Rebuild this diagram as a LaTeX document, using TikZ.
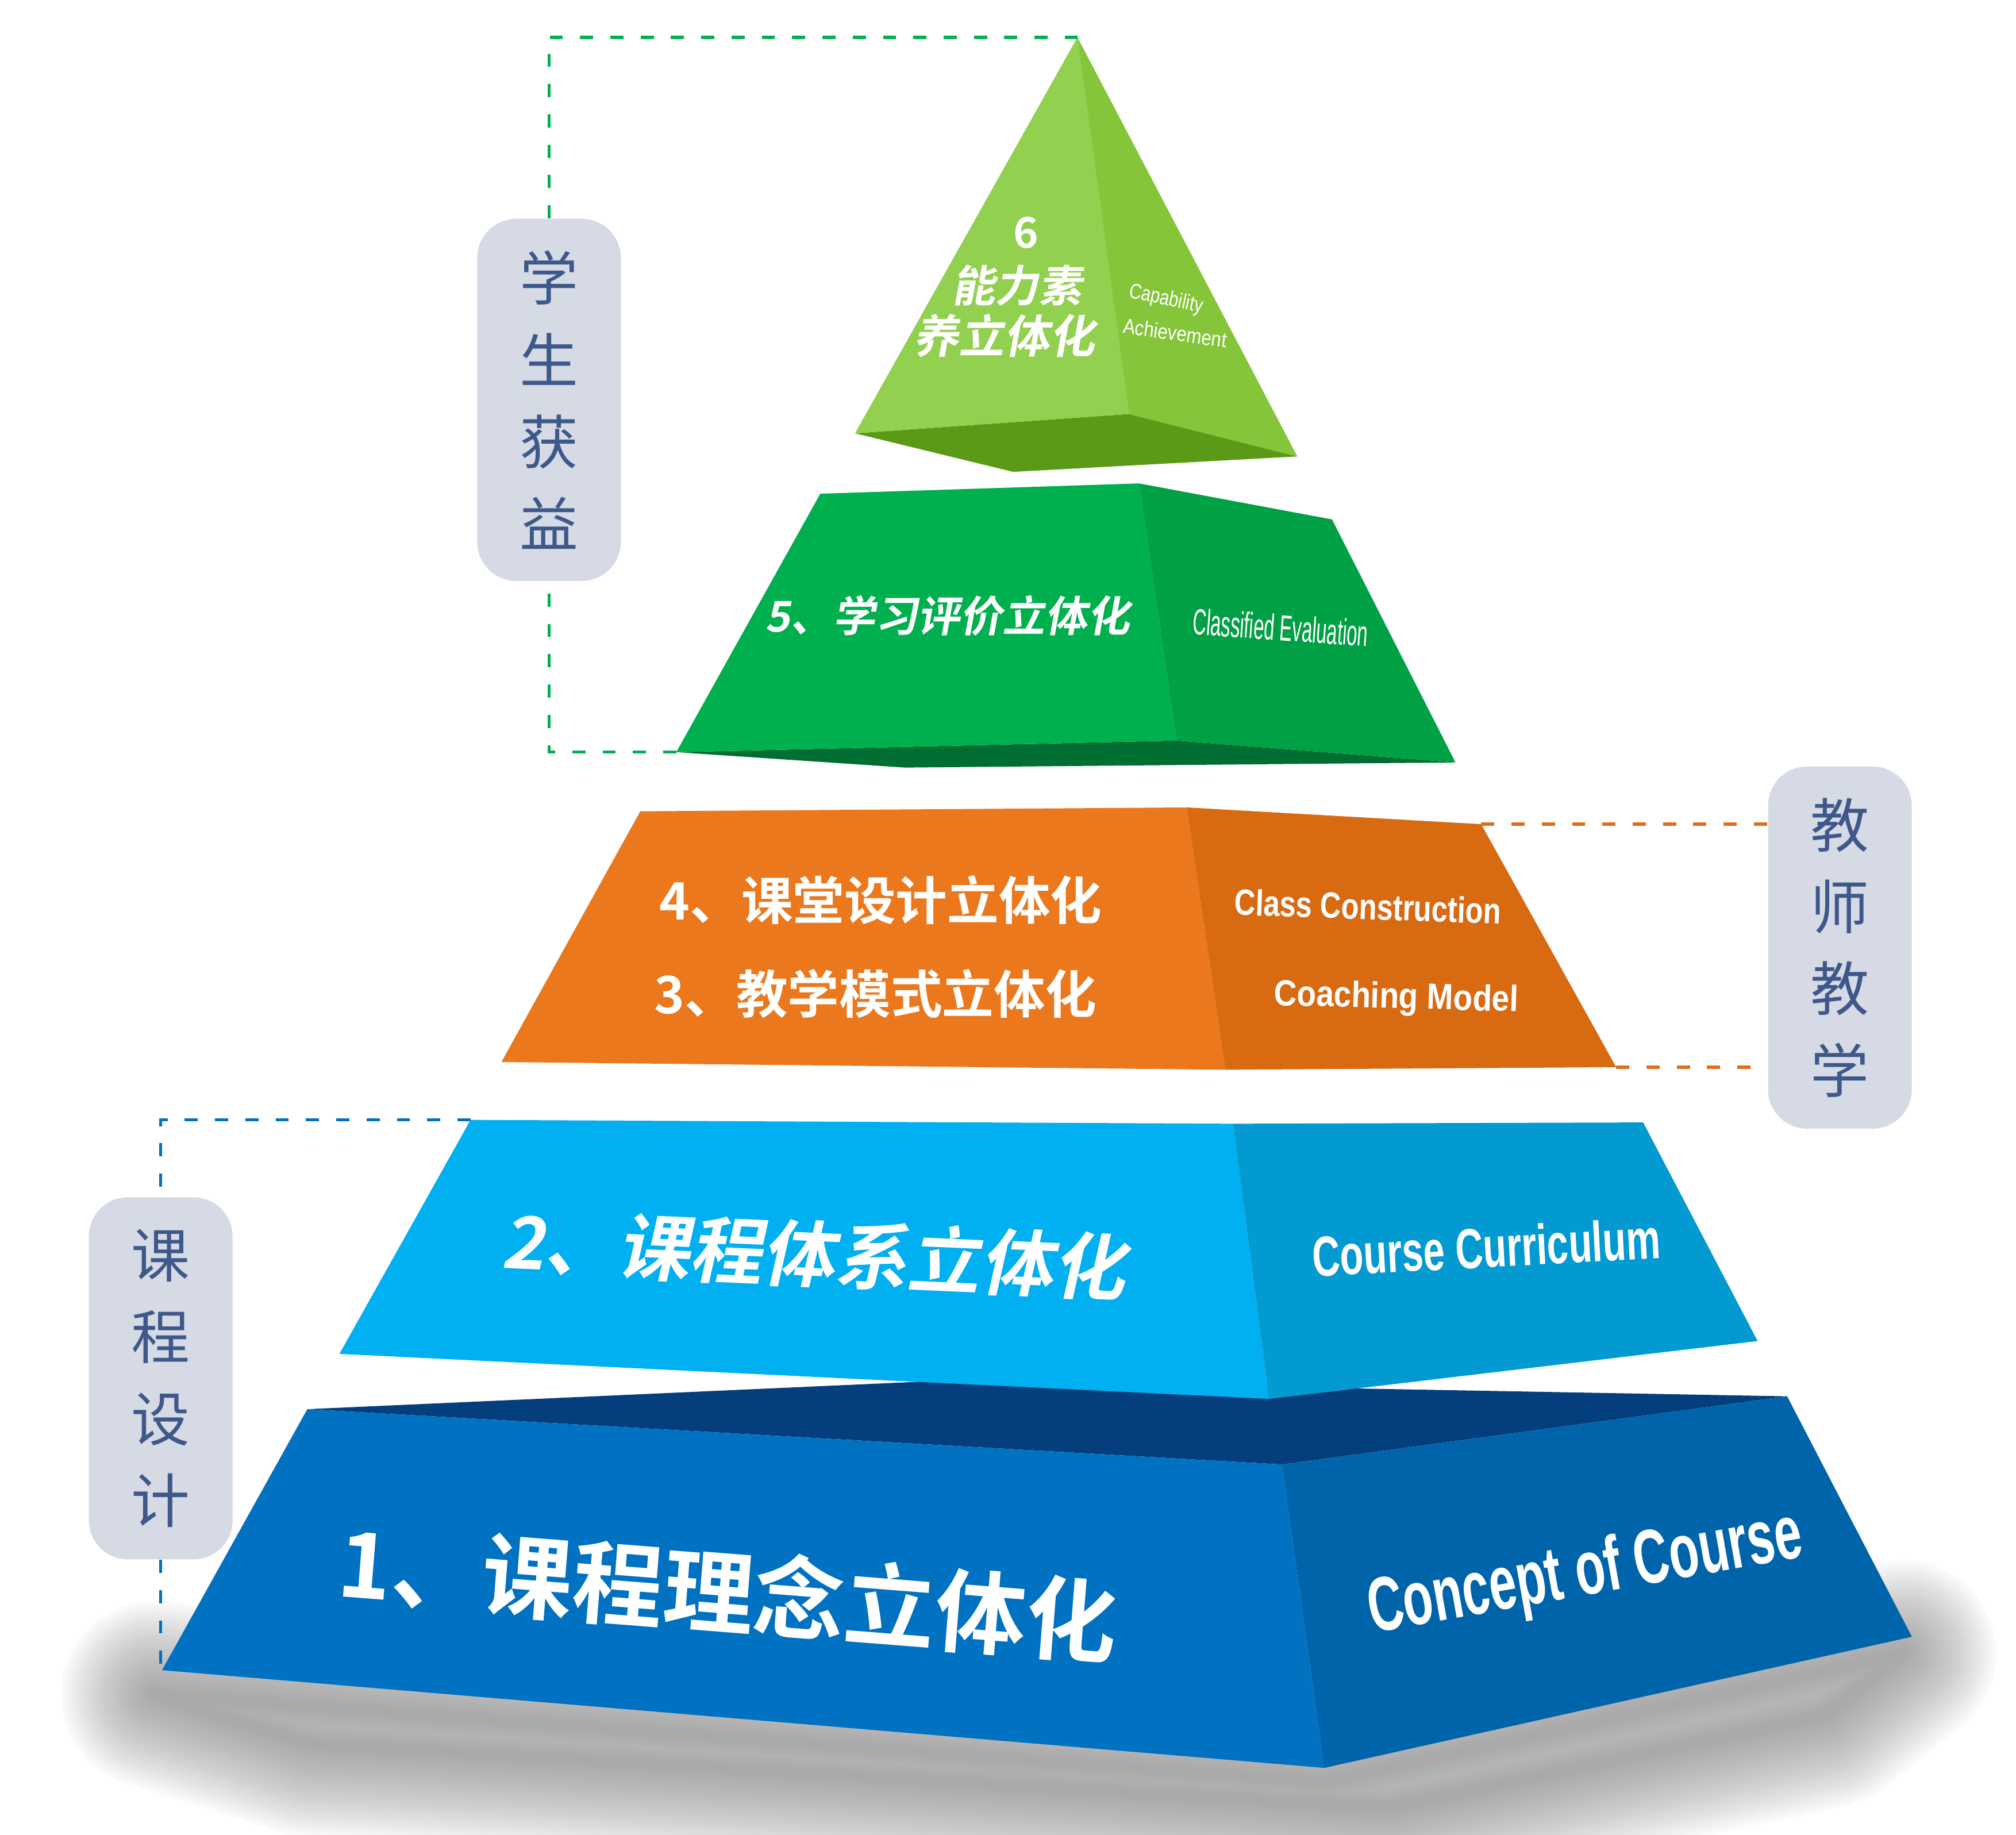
\documentclass[tikz,border=0pt]{standalone}
\usepackage{fontspec}
\setmainfont{Liberation Sans}
\newfontfamily\cjk{Noto Sans CJK SC}
\newfontfamily\cjkb{Noto Sans CJK SC Bold}
\newfontfamily\cjkbi{Noto Sans CJK SC Bold}[FakeSlant=0.18]
\usetikzlibrary{positioning}

\definecolor{tagfill}{RGB}{214,218,229}
\definecolor{tagtext}{RGB}{62,88,138}
\definecolor{shadowc}{RGB}{110,110,110}
\definecolor{gSixL}{RGB}{146,208,80}
\definecolor{gSixR}{RGB}{132,197,58}
\definecolor{gSixB}{RGB}{91,154,23}
\definecolor{gFiveL}{RGB}{0,175,78}
\definecolor{gFiveR}{RGB}{0,160,68}
\definecolor{gFiveB}{RGB}{0,110,50}
\definecolor{oL}{RGB}{235,120,29}
\definecolor{oR}{RGB}{216,106,18}
\definecolor{cL}{RGB}{0,176,240}
\definecolor{cR}{RGB}{3,154,209}
\definecolor{bTop}{RGB}{4,62,124}
\definecolor{bL}{RGB}{0,114,193}
\definecolor{bR}{RGB}{0,100,170}
\definecolor{dashG}{RGB}{0,176,80}
\definecolor{dashO}{RGB}{222,110,30}
\definecolor{dashB}{RGB}{0,112,192}

\begin{document}
\begin{tikzpicture}
	[
		x=0.02237cm, y=-0.02237cm,
		tag/.style = {rectangle, rounded corners=0.68cm, fill=tagfill, text=tagtext, draw=none,
			minimum width=2.5cm, minimum height=6.3cm, inner sep=0pt, align=center,
			font=\cjk\fontsize{29}{40.5}\selectfont},
		CN/.style = {align=center, text=white, inner sep=0pt},
		EN/.style = {text=white, inner sep=0pt, transform shape},
		link/.style = {dash pattern=on 6.5pt off 8.5pt, line width=1.5pt},
	]
	\useasboundingbox (0,0) rectangle (1568,1427);

	% soft shadow under the base block
	\foreach \w in {1,...,28}
	\draw[shadowc, opacity=0.03, line width=\w*3.3pt, line join=round]
		(120,1318) -- (1030,1386) -- (1480,1286) -- (1420,1334) -- (1080,1406) -- (240,1356) -- cycle;

	% corners
	\coordinate (b1TL) at ( 239,1096);
	\coordinate (b1BL) at ( 126,1299);
	\coordinate (c2TL) at ( 366, 871);
	\coordinate (o4TR) at (1152, 641);
	\coordinate (o4BR) at (1257, 830);
	\coordinate (g5BL) at ( 526, 585);
	\coordinate (g6A)  at ( 838,  29);

	% 1 course concept
	\fill[bTop] (b1TL) -- (730,1074) -- (1390,1086) -- (997,1139) -- cycle;
	\fill[bL] (b1TL) -- (997,1139) -- (1030,1375) -- (b1BL) -- cycle;
	\fill[bR] (997,1139) -- (1390,1086) -- (1487,1273) -- (1030,1375) -- cycle;

	% 2 course curriculum
	\fill[cL] (c2TL) -- (959,874) -- (987,1088) -- (264,1053) -- cycle;
	\fill[cR] (959,874) -- (1278,873) -- (1367,1043) -- (987,1088) -- cycle;

	% 3/4 class and coaching
	\fill[oL] (498,631) -- (923,628) -- (953,832) -- (390,826) -- cycle;
	\fill[oR] (923,628) -- (o4TR) -- (o4BR) -- (953,832) -- cycle;

	% 5 evaluation
	\fill[gFiveB] (g5BL) -- (915,576) -- (1132,593) -- (704,597) -- cycle;
	\fill[gFiveL] (638,384) -- (886,376) -- (915,576) -- (g5BL) -- cycle;
	\fill[gFiveR] (886,376) -- (1036,404) -- (1132,593) -- (915,576) -- cycle;

	% 6 capability
	\fill[gSixB] (665,337) -- (878,322) -- (1009,355) -- (788,367) -- cycle;
	\fill[gSixL] (g6A) -- (878,322) -- (665,337) -- cycle;
	\fill[gSixR] (g6A) -- (1009,355) -- (878,322) -- cycle;

	% side tags
	\node[tag] (study)  at ( 427, 311) {学\\生\\获\\益};
	\node[tag] (teach)  at (1431, 737) {教\\师\\教\\学};
	\node[tag] (design) at ( 125,1072) {课\\程\\设\\计};

	% dashed links
	\draw[link, dashG] (g5BL) -| (study.south);
	\draw[link, dashG] (study.north) |- (g6A);
	\draw[link, dashO] (o4TR) -- (o4TR -| teach.west);
	\draw[link, dashO] (o4BR) -- (o4BR -| teach.west);
	\draw[link, dashB] (c2TL) -| (design.north);
	\draw[link, dashB] (design.south) -- (design.south |- b1BL);

	% chinese titles
	\node[CN, font=\cjkb\fontsize{21}{25}\selectfont] (n6)  at ( 798, 181) {6};
	\node[CN, font=\cjkbi\fontsize{21.5}{25}\selectfont] (n6a) at ( 791, 222) {能力素};
	\node[CN, font=\cjkbi\fontsize{22.5}{25}\selectfont] (n6b) at ( 781, 261) {养立体化};
	\node[CN, font=\cjkbi\fontsize{21}{25}\selectfont] (n5)  at ( 737, 479) {5、学习评价立体化};
	\node[CN, font=\cjkb\fontsize{25.5}{28}\selectfont]  (n4)  at ( 685, 700) {4、课堂设计立体化};
	\node[CN, font=\cjkb\fontsize{25.5}{28}\selectfont]  (n3)  at ( 681, 773) {3、教学模式立体化};
	\node[CN, font=\cjkbi\fontsize{36}{40}\selectfont, rotate=-2.5] (n2) at ( 633, 975) {2、课程体系立体化};
	\node[CN, font=\cjkb\fontsize{45}{50}\selectfont, rotate=-4.5]  (n1) at ( 566,1238) {1、课程理念立体化};

	% english titles
	\node[EN, font=\fontsize{10.5}{12}\selectfont, rotate=-12, xscale=0.8] (e6a) at ( 907, 233) {Capability};
	\node[EN, font=\fontsize{10.5}{12}\selectfont, rotate=-8, xscale=0.85] (e6b) at ( 914, 259) {Achievement};
	\node[EN, font=\fontsize{18}{20}\selectfont, rotate=-4, xscale=0.52] (e5) at ( 996, 488) {Classified Evaluation};
	\node[EN, font=\bfseries\fontsize{18}{20}\selectfont, rotate=-2, xscale=0.8] (e4) at (1064, 705) {Class Construction};
	\node[EN, font=\bfseries\fontsize{18}{20}\selectfont, rotate=-1.5, xscale=0.87] (e3) at (1086, 777) {Coaching Model};
	\node[EN, font=\bfseries\fontsize{28}{30}\selectfont, rotate=3, xscale=0.68] (e2) at (1156, 970) {Course Curriculum};
	\node[EN, font=\bfseries\fontsize{38}{40}\selectfont, rotate=10, xscale=0.64] (e1) at (1233,1225) {Concept of Course};

\end{tikzpicture}
\end{document}
